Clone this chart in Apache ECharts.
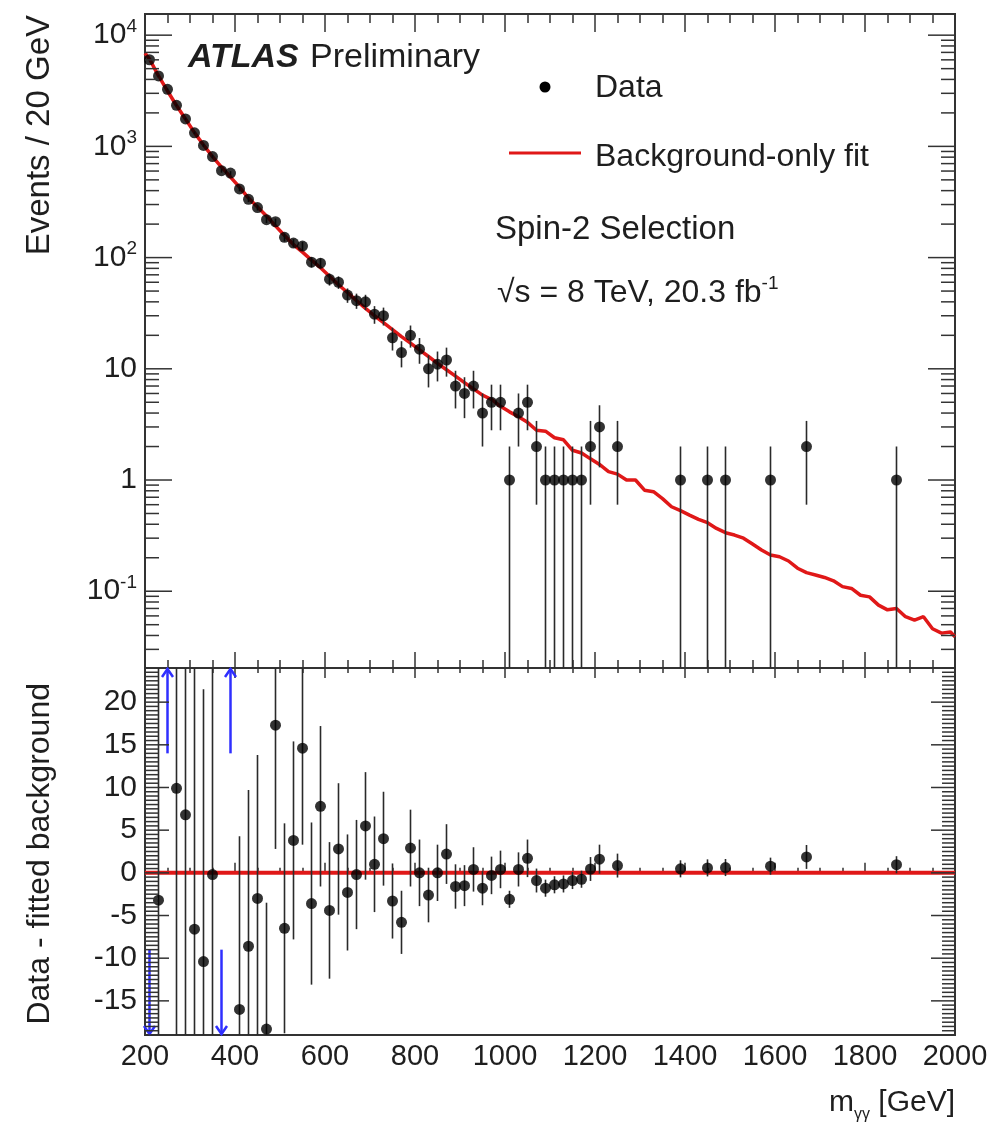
<!DOCTYPE html>
<html><head><meta charset="utf-8">
<script src="https://cdn.jsdelivr.net/npm/echarts@6/dist/echarts.min.js"></script>
<style>html,body{margin:0;padding:0;background:#fff}#c{width:1001px;height:1124px}</style>
</head><body><div id="c"></div>
<script>
// ---------------- data ----------------
const massBins = [210,230,250,270,290,310,330,350,370,390,410,430,450,470,490,510,530,550,570,590,610,630,650,670,690,710,730,750,770,790,810,830,850,870,890,910,930,950,970,990,1010,1030,1050,1070,1090,1110,1130,1150,1170,1190,1210,1250,1390,1450,1490,1590,1670,1870];
const dataCounts = [6010,4297,3260,2340,1767,1324,1020,810,605,575,414,334,282,219,210,152,135,127,91,89,64,60,46,41,40,31,30,19,14,20,15,10,11,12,7,6,7,4,5,5,1,4,5,2,1,1,1,1,1,2,3,2,1,1,1,1,2,1];
const dataErrors = [77.5,65.6,57.1,48.4,42.0,36.4,31.9,28.5,24.6,24.0,20.3,18.3,16.8,14.8,14.5,12.3,11.6,11.3,9.5,9.4,8.0,7.7,6.8,6.4,6.3,5.6,5.5,4.4,3.7,4.5,3.9,3.2,3.3,3.5,2.6,2.4,2.6,2.0,2.2,2.2,1.0,2.0,2.2,1.4,1.0,1.0,1.0,1.0,1.0,1.4,1.7,1.4,1.0,1.0,1.0,1.0,1.4,1.0];
const residuals = [null,-3.2,null,9.9,6.8,-6.6,-10.4,-0.2,null,null,-16.0,-8.6,-3.0,-18.3,17.3,-6.5,3.8,14.6,-3.6,7.8,-4.4,2.8,-2.3,-0.2,5.5,1.0,4.0,-3.3,-5.8,2.9,0.0,-2.6,0.0,2.2,-1.6,-1.5,0.4,-1.8,-0.3,0.4,-3.1,0.4,1.7,-0.9,-1.8,-1.4,-1.3,-0.9,-0.75,0.45,1.6,0.85,0.47,0.58,0.62,0.78,1.86,0.95];
const arrowMass = [210,250,370,390];
const arrowDir = [-1,1,-1,1];
const fitMass = [200,210,230,250,270,290,310,330,350,370,390,410,430,450,470,490,510,530,550,570,590,610,630,650,670,690,710,730,750,770,790,810,830,850,870,890,910,930,950,970,990,1010,1030,1050,1070,1090,1110,1130,1150,1170,1190,1210,1230,1250,1270,1290,1310,1330,1350,1370,1390,1410,1430,1450,1470,1490,1510,1530,1550,1570,1590,1610,1630,1650,1670,1690,1710,1730,1750,1770,1790,1810,1830,1850,1870,1890,1910,1930,1950,1970,1990,2000];
const fitValues = [6900,6100,4300,3150,2330,1760,1330,1030,810,650,530,430,343,285,237,193,158,131,112,95,81,68,57,48.5,41,35,30,26,22.5,19.5,17,14.8,12.9,11.2,9.8,8.6,7.5,6.6,5.8,5.3,4.6,4.1,3.7,3.3,2.8,2.75,2.4,2.3,1.85,1.75,1.55,1.38,1.19,1.13,1.0,1.0,0.81,0.785,0.68,0.575,0.53,0.484,0.443,0.413,0.367,0.336,0.32,0.30,0.266,0.235,0.212,0.204,0.187,0.161,0.147,0.14,0.133,0.124,0.11,0.106,0.092,0.089,0.075,0.068,0.070,0.059,0.055,0.059,0.046,0.042,0.043,0.039];
const zeroLineMass = [200,2000];
const upperTickBase = ['10','1','10','10','10','10'];
const upperTickExp  = ['-1','','','2','3','4'];
const lowerMajorTicks = [-15,-10,-5,0,5,10,15,20];
const lowerTickLabels = ['-15','-10','-5','0','5','10','15','20'];

// ---------------- styling ----------------
const FONT = "'Liberation Sans', Arial, Helvetica, sans-serif";
const TXT = '#1e1e1e';
const AX = '#333';
const RED = '#e01818';
const X0 = 200, X1 = 2000;
const YMIN_U = 0.0204, YMAX_U = 15500;
const YMIN_L = -19, YMAX_L = 24;

// tick lists (axis decoration)
const upperTicks = [];
for (let k = -2; k <= 4; k++) {
  for (let d = 1; d <= 9; d++) {
    const v = d * Math.pow(10, k);
    if (v >= YMIN_U && v <= YMAX_U) upperTicks.push([X0, v, d === 1 ? 1 : 0, d === 1 ? k + 1 : -1]);
  }
}
const lowerTicks = [];
for (let i = 2 * YMIN_L; i <= 2 * YMAX_L; i++) {
  const v = i / 2;
  const idx = lowerMajorTicks.indexOf(v);
  lowerTicks.push([X0, v, idx >= 0 ? 1 : 0, idx]);
}

function tickRenderer(majLen, minLen, labelFn) {
  return function (params, api) {
    const v = api.value(1), major = api.value(2), li = api.value(3);
    const pL = api.coord([X0, v]), pR = api.coord([X1, v]);
    const len = major ? majLen : minLen;
    const st = { stroke: AX, lineWidth: 1.5 };
    const ch = [
      { type: 'line', shape: { x1: pL[0], y1: pL[1], x2: pL[0] + len, y2: pL[1] }, style: st },
      { type: 'line', shape: { x1: pR[0] - len, y1: pR[1], x2: pR[0], y2: pR[1] }, style: st }
    ];
    if (major && li >= 0) ch.push(labelFn(li, pL));
    return { type: 'group', children: ch };
  };
}

const upperLabel = function (li, p) {
  const e = upperTickExp[li];
  const txt = e ? '{n|' + upperTickBase[li] + '}{p|' + e + '}' : '{n|' + upperTickBase[li] + '}';
  return { type: 'text', x: p[0] - 8, y: p[1], style: {
    text: txt, align: 'right', verticalAlign: 'middle', textAlign: 'right', textVerticalAlign: 'middle',
    rich: { n: { fontSize: 30, lineHeight: 36, fontFamily: FONT, fill: TXT, color: TXT, verticalAlign: 'middle' },
            p: { fontSize: 19, lineHeight: 19, fontFamily: FONT, fill: TXT, color: TXT, verticalAlign: 'top' } }
  }};
};
const lowerLabel = function (li, p) {
  return { type: 'text', x: p[0] - 8, y: p[1], style: {
    text: lowerTickLabels[li], fontSize: 30, fontFamily: FONT, fill: TXT,
    align: 'right', verticalAlign: 'middle', textAlign: 'right', textVerticalAlign: 'middle' } };
};

function errRenderer(lo) {
  return function (params, api) {
    const m = api.value(0), y = api.value(1), e = api.value(2);
    const a = api.coord([m, Math.max(y - e, lo)]), b = api.coord([m, y + e]);
    return { type: 'line', shape: { x1: a[0], y1: a[1], x2: b[0], y2: b[1] }, style: { stroke: '#2a2a2a', lineWidth: 1.6 } };
  };
}

const upperPts = massBins.map((m, i) => [m, dataCounts[i]]);
const upperErr = massBins.map((m, i) => [m, dataCounts[i], dataErrors[i]]);
const lowerPts = [], lowerErr = [];
massBins.forEach((m, i) => { if (residuals[i] !== null) { lowerPts.push([m, residuals[i]]); lowerErr.push([m, residuals[i], dataErrors[i]]); } });
const fitData = fitMass.map((m, i) => [m, fitValues[i]]);
const zeroData = zeroLineMass.map(m => [m, 0]);
const arrowData = arrowMass.map((m, i) => [m, arrowDir[i]]);

function xAx(grid, pos, maj, min, labels) {
  return {
    gridIndex: grid, type: 'value', min: X0, max: X1, interval: 200, position: pos,
    axisLine: { show: false }, splitLine: { show: false },
    axisTick: { show: true, inside: true, length: maj, lineStyle: { color: AX, width: 1.5 } },
    minorTick: { show: true, splitNumber: 4, length: min, lineStyle: { color: AX, width: 1.5 } },
    axisLabel: labels ? { show: true, fontSize: 29, fontFamily: FONT, color: TXT, margin: 7, showMinLabel: true, showMaxLabel: true,
                          formatter: function (v) { return String(Math.round(v)); } } : { show: false }
  };
}

const chart = echarts.init(document.getElementById('c'), null, { renderer: 'canvas' });
chart.setOption({
  animation: false,
  backgroundColor: '#fff',
  grid: [
    { left: 145, top: 14, width: 810, height: 654, show: true, borderColor: AX, borderWidth: 2, backgroundColor: '#fff' },
    { left: 145, top: 668, width: 810, height: 367, show: true, borderColor: AX, borderWidth: 2, backgroundColor: '#fff' }
  ],
  xAxis: [xAx(0, 'bottom', 16, 8, false), xAx(0, 'top', 18, 9, false), xAx(1, 'bottom', 10, 5, true), xAx(1, 'top', 10, 5, false)],
  yAxis: [
    { gridIndex: 0, type: 'log', logBase: 10, min: YMIN_U, max: YMAX_U, show: false },
    { gridIndex: 1, type: 'value', min: YMIN_L, max: YMAX_L, show: false }
  ],
  series: [
    { type: 'custom', xAxisIndex: 0, yAxisIndex: 0, data: upperTicks, renderItem: tickRenderer(27, 14, upperLabel), clip: false, silent: true, z: 5 },
    { type: 'custom', xAxisIndex: 2, yAxisIndex: 1, data: lowerTicks, renderItem: tickRenderer(24, 13, lowerLabel), clip: false, silent: true, z: 5 },
    { type: 'line', xAxisIndex: 0, yAxisIndex: 0, data: fitData, symbol: 'none', lineStyle: { color: RED, width: 3.5 }, clip: true, z: 2 },
    { type: 'custom', xAxisIndex: 0, yAxisIndex: 0, data: upperErr, renderItem: errRenderer(1e-4), clip: true, z: 3 },
    { type: 'scatter', xAxisIndex: 0, yAxisIndex: 0, data: upperPts, symbol: 'circle', symbolSize: 11, itemStyle: { color: '#000' }, z: 4 },
    { type: 'line', xAxisIndex: 2, yAxisIndex: 1, data: zeroData, symbol: 'none', lineStyle: { color: RED, width: 4 }, z: 2 },
    { type: 'custom', xAxisIndex: 2, yAxisIndex: 1, data: lowerErr, renderItem: errRenderer(-1000), clip: true, z: 3 },
    { type: 'scatter', xAxisIndex: 2, yAxisIndex: 1, data: lowerPts, symbol: 'circle', symbolSize: 11, itemStyle: { color: '#000' }, z: 4 },
    { type: 'custom', xAxisIndex: 2, yAxisIndex: 1, data: arrowData, clip: false, z: 4,
      renderItem: function (params, api) {
        const m = api.value(0), d = api.value(1);
        const tail = api.coord([m, d > 0 ? 14 : -9]);
        const head = api.coord([m, d > 0 ? YMAX_L : YMIN_L]);
        const s = d > 0 ? 1 : -1;
        const st = { stroke: '#2f2fff', lineWidth: 2.5, fill: null };
        return { type: 'group', children: [
          { type: 'line', shape: { x1: tail[0], y1: tail[1], x2: head[0], y2: head[1] }, style: st },
          { type: 'polyline', shape: { points: [[head[0] - 5.5, head[1] + s * 9], [head[0], head[1] + s * 1], [head[0] + 5.5, head[1] + s * 9]] }, style: st }
        ] };
      } }
  ],
  graphic: [
    { type: 'text', x: 188, y: 58, style: { text: 'ATLAS', fontSize: 34, fontWeight: 'bold', fontStyle: 'italic', fontFamily: FONT, fill: TXT, textAlign: 'left', textVerticalAlign: 'middle', align: 'left', verticalAlign: 'middle' } },
    { type: 'text', x: 310, y: 58, style: { text: 'Preliminary', fontSize: 34, fontFamily: FONT, fill: TXT, textAlign: 'left', textVerticalAlign: 'middle', align: 'left', verticalAlign: 'middle' } },
    { type: 'circle', shape: { cx: 545, cy: 87, r: 5.5 }, style: { fill: '#000' } },
    { type: 'text', x: 595, y: 88, style: { text: 'Data', fontSize: 32, fontFamily: FONT, fill: TXT, textAlign: 'left', textVerticalAlign: 'middle', align: 'left', verticalAlign: 'middle' } },
    { type: 'line', shape: { x1: 509, y1: 153, x2: 581, y2: 153 }, style: { stroke: RED, lineWidth: 3 } },
    { type: 'text', x: 595, y: 157, style: { text: 'Background-only fit', fontSize: 32, fontFamily: FONT, fill: TXT, textAlign: 'left', textVerticalAlign: 'middle', align: 'left', verticalAlign: 'middle' } },
    { type: 'text', x: 495, y: 230, style: { text: 'Spin-2 Selection', fontSize: 33, fontFamily: FONT, fill: TXT, textAlign: 'left', textVerticalAlign: 'middle', align: 'left', verticalAlign: 'middle' } },
    { type: 'text', x: 497, y: 293, style: { text: '{n|√s = 8 TeV, 20.3 fb}{p|-1}', textAlign: 'left', textVerticalAlign: 'middle', align: 'left', verticalAlign: 'middle',
        rich: { n: { fontSize: 32, lineHeight: 38, fontFamily: FONT, fill: TXT, color: TXT }, p: { fontSize: 19, lineHeight: 19, fontFamily: FONT, fill: TXT, color: TXT, verticalAlign: 'top' } } } },
    { type: 'text', x: 40, y: 15, rotation: Math.PI / 2, style: { text: 'Events / 20 GeV', fontSize: 33, fontFamily: FONT, fill: TXT, textAlign: 'right', textVerticalAlign: 'middle', align: 'right', verticalAlign: 'middle' } },
    { type: 'text', x: 40, y: 683, rotation: Math.PI / 2, style: { text: 'Data - fitted background', fontSize: 32, fontFamily: FONT, fill: TXT, textAlign: 'right', textVerticalAlign: 'middle', align: 'right', verticalAlign: 'middle' } },
    { type: 'text', x: 955, y: 1103, style: { text: '{n|m}{s|γγ}{n| [GeV]}', textAlign: 'right', textVerticalAlign: 'middle', align: 'right', verticalAlign: 'middle',
        rich: { n: { fontSize: 30, lineHeight: 40, fontFamily: FONT, fill: TXT, color: TXT }, s: { fontSize: 16, lineHeight: 16, fontFamily: FONT, fill: TXT, color: TXT, verticalAlign: 'bottom' } } } }
  ]
});
</script>
</body></html>
